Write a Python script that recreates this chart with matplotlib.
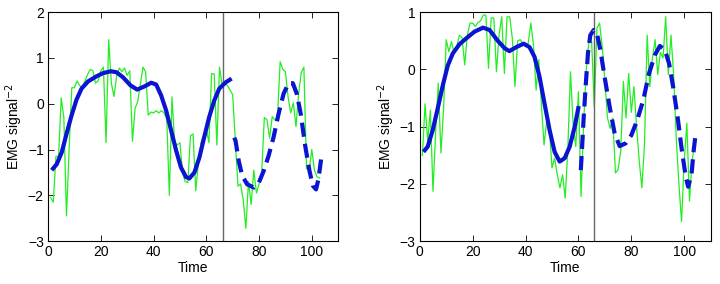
import numpy as np
import matplotlib
matplotlib.use("Agg")
import matplotlib.pyplot as plt

plt.rcParams['font.family'] = ['Liberation Sans', 'DejaVu Sans']
plt.rcParams['font.size'] = 10

# ---- left panel ----
left_t = np.arange(1, 104)
left_emg = [-2.05, -2.15, -1.15, -1.15, 0.13, -0.3, -2.45, -1.0, 0.35, 0.35,
            0.5, 0.4, 0.35, 0.5, 0.64, 0.75, 0.72, 0.45, 0.5, 0.72,
            0.8, -0.85, 1.4, 0.45, 0.16, 0.6, 0.78, 0.7, 0.78, 0.62,
            0.72, -0.82, -0.1, 0.05, 0.42, 0.8, 0.7, -0.25, -0.18, -0.2,
            -0.15, -0.2, -0.15, -0.2, -0.33, -2.0, 0.15, -0.85, -0.9, -0.85,
            -1.5, -1.7, -1.72, -0.7, -0.66, -1.9, -1.3, -0.85, -0.7, -0.55,
            -0.85, 0.66, 0.65, -0.9, 0.8, 0.4, 0.45, 0.4, 0.3, 0.2,
            -0.8, -1.8, -1.75, -2.1, -2.72, -1.7, -2.2, -1.45, -1.95, -1.75,
            -1.5, -0.3, -0.35, -0.75, -0.28, -0.35, -0.3, 0.92, 0.75, 0.7,
            0.15, -0.2, 0.02, -0.5, 0.22, 0.68, 0.8, -1.42, -1.45, -1.0,
            -1.45, -1.6, -1.62]

left_fit_t = [1.4, 3.3, 5.2, 7.0, 8.9, 10.8, 12.7, 15.2, 18.4, 20.9, 23.8,
              25.9, 28.4, 31.3, 33.8, 36.6, 39.1, 41.0, 42.9, 44.8, 46.7,
              48.6, 50.4, 52.3, 53.6, 55.5, 57.4, 59.2, 61.1, 63.0, 64.9,
              67.4, 69.6]
left_fit = [-1.45, -1.32, -1.06, -0.66, -0.26, 0.09, 0.33, 0.49, 0.6, 0.67, 0.71,
            0.69, 0.58, 0.4, 0.31, 0.38, 0.46, 0.42, 0.18, -0.15, -0.59,
            -1.03, -1.39, -1.6, -1.63, -1.5, -1.17, -0.73, -0.29, 0.07, 0.33,
            0.47, 0.55]

left_pred_t = [70.6, 71.1, 72.3, 73.6, 75.5, 78.0, 79.8, 81.8, 83.6, 85.5, 87.4,
               89.3, 91.2, 92.8, 94.3, 95.8, 97.5, 99.1, 100.4, 101.6, 102.5,
               103.7]
left_pred = [-0.74, -0.81, -1.25, -1.57, -1.76, -1.83, -1.74, -1.46, -1.14, -0.73, -0.22,
             0.22, 0.45, 0.45, 0.22, -0.22, -0.92, -1.46, -1.79, -1.87, -1.65,
             -1.14]
left_split = 66.5

# ---- right panel ----
right_t = np.arange(1, 105)
right_emg = [-1.5, -0.6, -1.26, -0.71, -2.13, -1.1, -0.24, -1.46, -0.7, 0.52,
             0.31, 0.49, 0.28, 0.4, 0.6, 0.55, 0.08, 0.6, 0.81, 0.81,
             0.75, 0.82, 0.85, 0.95, 0.95, 0.02, 0.9, 0.9, -0.04, 0.6,
             0.92, -0.07, 0.92, 0.92, 0.55, -0.3, 0.5, 0.52, 0.45, 0.43,
             0.45, 0.81, 0.43, -0.36, 0.17, -0.6, -1.32, -0.9, -1.0, -1.72,
             -1.55, -1.84, -2.07, -1.84, -2.25, -1.38, -0.04, -0.97, -1.35, -0.39,
             -2.22, -0.9, 0.0, 0.52, 0.49, -0.66, 0.72, 0.81, 0.4, -0.2,
             -0.85, -1.03, -0.85, -1.81, -1.75, -1.43, -0.21, -0.85, -0.07, -0.75,
             -0.3, -1.0, -1.6, -2.07, -1.3, 0.6, -0.3, 0.2, 0.52, -0.09,
             0.3, 0.2, 0.92, -0.09, 0.6, -0.09, -1.2, -2.0, -2.66, -1.6,
             -0.94, -2.3, -1.6, -1.26]

right_fit_t = [1.4, 3.0, 4.9, 6.8, 8.7, 10.6, 12.5, 15.0, 17.5, 20.7, 23.9,
               26.4, 29.5, 32.1, 33.9, 36.5, 39.3, 41.5, 43.4, 45.3, 47.2,
               49.1, 51.0, 52.9, 54.8, 56.7, 58.6, 60.1]
right_fit = [-1.44, -1.35, -1.06, -0.68, -0.28, 0.07, 0.28, 0.44, 0.54, 0.66, 0.73,
             0.69, 0.5, 0.37, 0.32, 0.39, 0.45, 0.39, 0.22, -0.13, -0.6,
             -1.06, -1.44, -1.61, -1.55, -1.35, -1.0, -0.64]

right_pred_t = [60.9, 61.4, 62.0, 62.8, 63.6, 64.5, 65.8, 67.0, 68.3, 69.9, 71.8,
                73.7, 75.6, 77.9, 80.0, 82.2, 84.5, 86.7, 88.9, 90.8, 92.7,
                94.3, 95.8, 97.5, 99.1, 100.6, 101.5, 102.8, 103.6, 104.2]
right_pred = [-1.76, -1.35, -0.83, -0.25, 0.28, 0.6, 0.69, 0.63, 0.34, -0.13, -0.65,
              -1.12, -1.34, -1.29, -1.15, -0.89, -0.54, -0.07, 0.25, 0.41, 0.34,
              0.1, -0.3, -0.83, -1.41, -1.88, -2.05, -1.82, -1.41, -1.18]
right_split = 66.0

green = '#22ee22'
blue = '#0a14d2'

fig = plt.figure(figsize=(7.2, 2.84), dpi=100)
ax1 = fig.add_axes([0.0667, 0.151, 0.403, 0.806])
ax2 = fig.add_axes([0.583, 0.151, 0.404, 0.806])

panels = [
    (ax1, left_t, left_emg, left_fit_t, left_fit, left_pred_t, left_pred, left_split, (-3, 2)),
    (ax2, right_t, right_emg, right_fit_t, right_fit, right_pred_t, right_pred, right_split, (-3, 1)),
]

for ax, t, emg, ft, f, pt, p, split, ylim in panels:
    ax.plot(t, emg, color=green, lw=0.9)
    ax.axvline(split, color='#666666', lw=1.0)
    ax.plot(ft, f, color=blue, lw=3.0, solid_capstyle='butt', solid_joinstyle='round')
    ax.plot(pt, p, color=blue, lw=3.0, ls=(0, (3.4, 1.7)), dash_joinstyle='round')
    ax.set_xlim(0, 110)
    ax.set_ylim(*ylim)
    ax.set_xticks([0, 20, 40, 60, 80, 100])
    ax.set_yticks(np.arange(ylim[0], ylim[1] + 1))
    ax.tick_params(direction='in', top=True, right=True, length=4, width=0.6,
                   labelsize=10, pad=3)
    for s in ax.spines.values():
        s.set_linewidth(0.8)
    ax.set_xlabel('Time', labelpad=1)
    ax.set_ylabel('EMG signal$^{-2}$', labelpad=2)

fig.savefig('out.png', dpi=100)
